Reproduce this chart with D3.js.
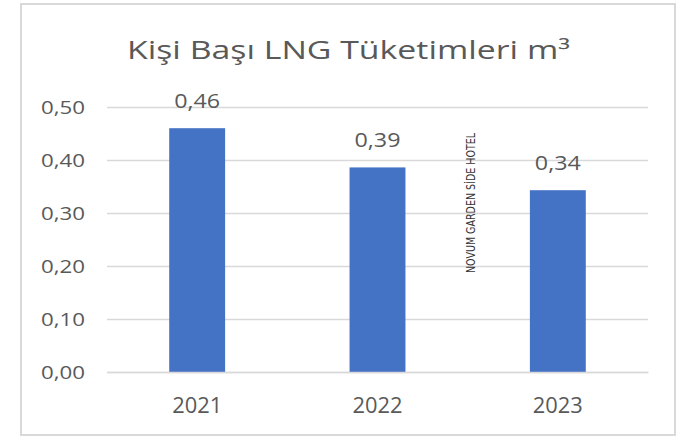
<!DOCTYPE html>
<html><head><meta charset="utf-8">
<script src="https://cdn.jsdelivr.net/npm/d3@7"></script>
<style>html,body{margin:0;padding:0;background:#fff;}</style>
</head><body>
<svg id="c" width="677" height="438"></svg>
<script>
const categories = ["2021", "2022", "2023"];
const values = [0.46, 0.386, 0.343];
const yTicks = [0, 0.1, 0.2, 0.3, 0.4, 0.5];
const title = "Kişi Başı LNG Tüketimleri m³";
const watermark = "NOVUM GARDEN SİDE HOTEL";

const svg = d3.select("#c");
const font = "'Open Sans', 'Noto Sans', sans-serif";
const textCol = "#595959";
const comma = d => d3.format(".2f")(d).replace(".", ",");

svg.append("rect").attr("x", 21).attr("y", 4).attr("width", 654).attr("height", 431)
  .attr("fill", "#fff").attr("stroke", "#d9d9d9").attr("stroke-width", 2);

svg.append("text").attr("x", 348.5).attr("y", 59).attr("text-anchor", "middle")
  .attr("font-family", font).attr("font-size", 25).attr("fill", textCol)
  .attr("textLength", 443).attr("lengthAdjust", "spacingAndGlyphs").text(title);

const x = d3.scaleBand().domain(categories).range([107, 648]).paddingInner(0.69).paddingOuter(0.345);
const y = d3.scaleLinear().domain([0, 0.5]).range([372, 107]);

const yAxis = svg.append("g").attr("transform", "translate(107,0)")
  .call(d3.axisLeft(y).tickValues(yTicks).tickFormat(comma).tickSize(-541).tickPadding(22));
yAxis.select(".domain").remove();
yAxis.selectAll(".tick line").attr("stroke", "#d9d9d9").attr("stroke-width", 1.3);
yAxis.selectAll(".tick text").attr("font-family", font).attr("font-size", 19).attr("fill", textCol)
  .attr("dy", "0.34em").attr("textLength", 44).attr("lengthAdjust", "spacingAndGlyphs");

svg.selectAll(".bar").data(values).enter().append("rect").attr("class", "bar")
  .attr("x", (d, i) => x(categories[i])).attr("width", x.bandwidth())
  .attr("y", d => y(d)).attr("height", d => y(0) - y(d)).attr("fill", "#4472c4");

svg.selectAll(".lbl").data(values).enter().append("text").attr("class", "lbl")
  .attr("x", (d, i) => x(categories[i]) + x.bandwidth() / 2).attr("y", d => y(d) - 20)
  .attr("text-anchor", "middle").attr("font-family", font).attr("font-size", 19.5)
  .attr("fill", textCol).attr("textLength", 46).attr("lengthAdjust", "spacingAndGlyphs")
  .text(d => comma(d));

const xAxis = svg.append("g").attr("transform", "translate(0,372)")
  .call(d3.axisBottom(x).tickSize(0).tickPadding(24));
xAxis.select(".domain").attr("stroke", "#d9d9d9").attr("stroke-width", 1.3);
xAxis.selectAll(".tick text").attr("font-family", font).attr("font-size", 21).attr("fill", textCol)
  .attr("dy", null).attr("y", 41).attr("textLength", 50).attr("lengthAdjust", "spacingAndGlyphs");

svg.append("text").attr("transform", "translate(475,273) rotate(-90)")
  .attr("font-family", "'Liberation Sans Narrow', 'DejaVu Sans Condensed', sans-serif")
  .attr("font-size", 11.5).attr("fill", "#333").attr("textLength", 140).attr("lengthAdjust", "spacingAndGlyphs")
  .text(watermark);
</script>
</body></html>
